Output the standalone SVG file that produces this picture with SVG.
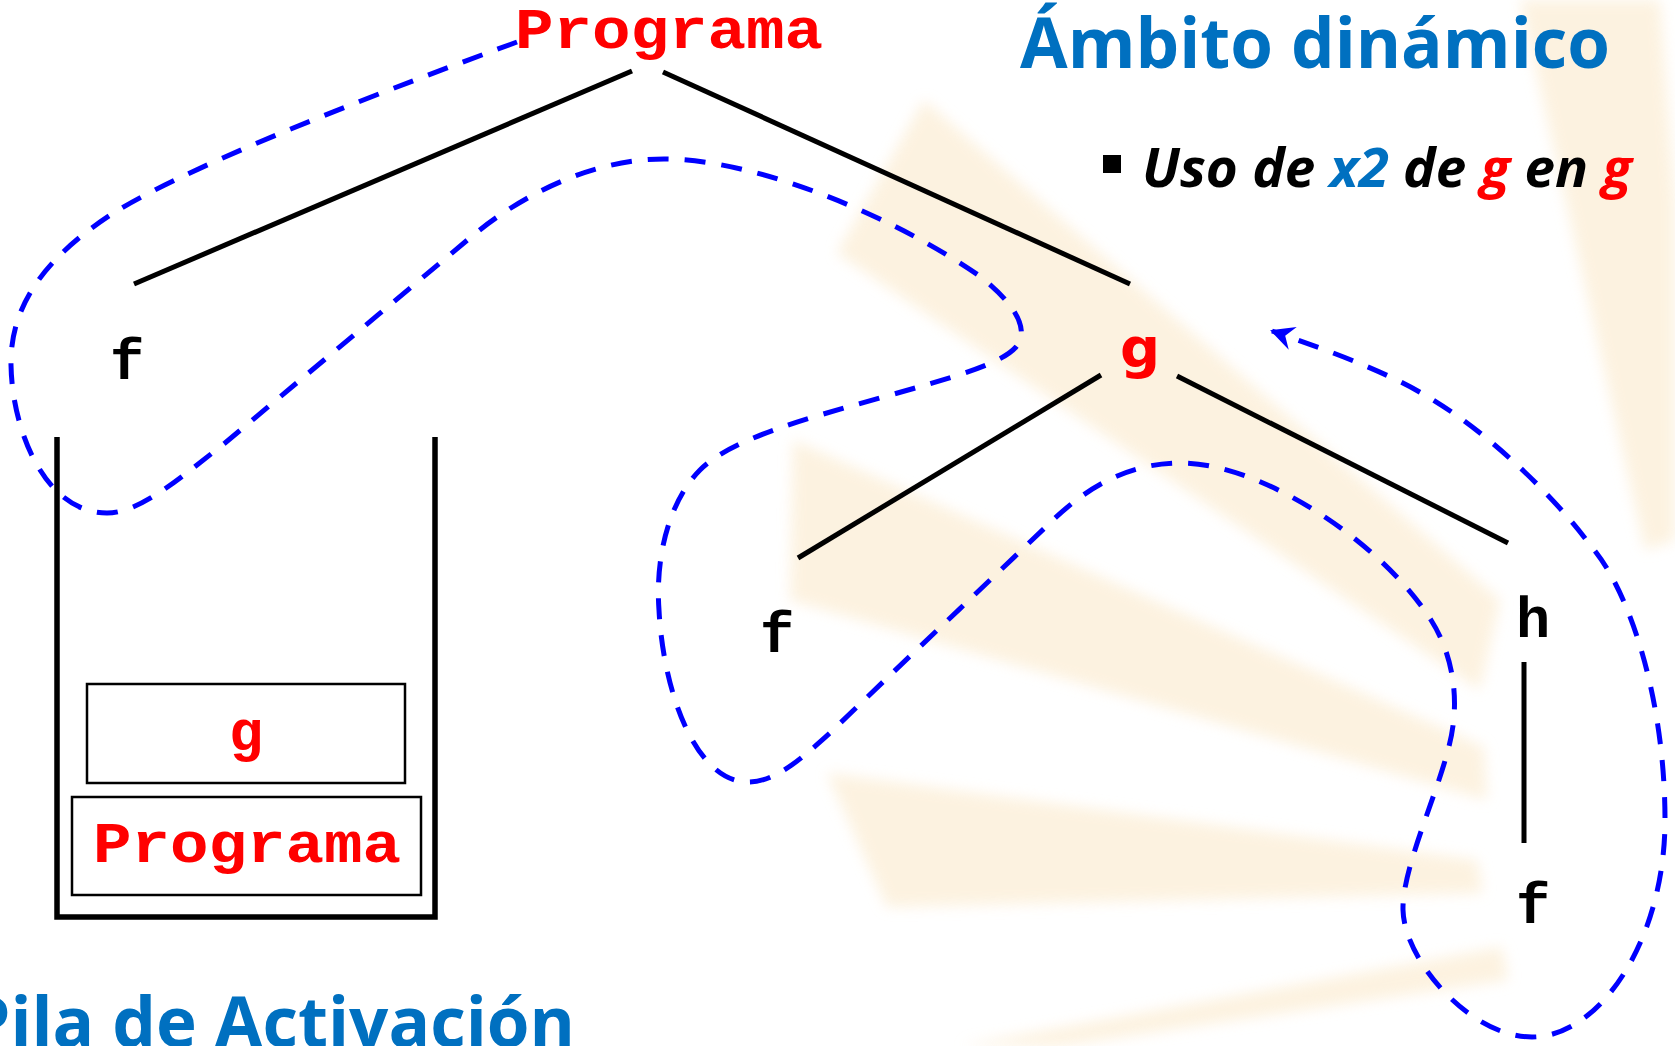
<svg xmlns="http://www.w3.org/2000/svg" width="1675" height="1046" viewBox="0 0 1675 1046">
<style>
.bg{fill:#FCEED6;stroke:none}
.edge{stroke:#000;stroke-width:5;fill:none}
.box{fill:none;stroke:#000;stroke-width:2.5}
.mono{font-family:"Liberation Mono","Courier New",monospace;font-weight:bold;font-size:57px}
.red{fill:#FF0000}
.blk{fill:#000}
.title{font-family:"Open Sans","DejaVu Sans",sans-serif;font-weight:bold;font-size:70px;fill:#0070C0}
.bul{font-family:"Open Sans","DejaVu Sans",sans-serif;font-weight:bold;font-style:italic;font-size:53px;fill:#000}
.dash{fill:none;stroke:#0000FF;stroke-width:5;stroke-dasharray:21 16}
</style>
<defs>
<filter id="soft" x="-10%" y="-10%" width="120%" height="120%">
<feGaussianBlur stdDeviation="7"/>
</filter>
<marker id="arr" markerUnits="userSpaceOnUse" orient="auto" refX="0" refY="0" markerWidth="40" markerHeight="40" overflow="visible">
<path d="M2,0 L-22,-12 L-14,0 L-22,12 Z" fill="#0000FF"/>
</marker>
</defs>
<rect width="1675" height="1046" fill="#FFFFFF"/>
<g id="background" filter="url(#soft)" opacity="0.75">
<polygon class="bg" points="924,100 837,253 1480,690 1500,600"/>
<polygon class="bg" points="793,440 790,600 1487,800 1484,747"/>
<polygon class="bg" points="827,773 887,907 1483,893 1477,860"/>
<polygon class="bg" points="960,1046 1060,1046 1508,980 1502,947"/>
<polygon class="bg" points="1520,0 1660,0 1675,200 1675,540 1645,550"/>
</g>
<g id="connectors">
<line class="edge" x1="632" y1="71" x2="134" y2="284"/>
<line class="edge" x1="663" y1="72" x2="1130" y2="284"/>
<line class="edge" x1="1101" y1="375" x2="798" y2="558"/>
<line class="edge" x1="1177" y1="376" x2="1508" y2="543"/>
<line class="edge" x1="1524" y1="662" x2="1524" y2="843"/>
</g>
<g id="node-programa"><text class="mono red" x="669" y="48" text-anchor="middle" textLength="308" lengthAdjust="spacingAndGlyphs">Programa</text></g>
<g id="node-f1"><text class="mono blk" x="127" y="379" text-anchor="middle">f</text></g>
<g id="node-g"><text x="1140" y="367" text-anchor="middle" style="font-family:'DejaVu Sans',sans-serif;font-weight:bold;font-size:56px" class="red">g</text></g>
<g id="node-f2"><text class="mono blk" x="777" y="652" text-anchor="middle">f</text></g>
<g id="node-h"><text class="mono blk" x="1533" y="637" text-anchor="middle">h</text></g>
<g id="node-f3"><text class="mono blk" x="1533" y="923" text-anchor="middle">f</text></g>
<g id="stack">
<path d="M57,437 V917 H435 V437" fill="none" stroke="#000" stroke-width="5.5"/>
<rect class="box" x="87" y="684" width="318" height="99"/>
<text class="mono red" x="246" y="750" text-anchor="middle">g</text>
<rect class="box" x="72" y="797" width="349" height="98"/>
<text class="mono red" x="247" y="862" text-anchor="middle" textLength="308" lengthAdjust="spacingAndGlyphs">Programa</text>
</g>
<g id="title"><text class="title" x="1020" y="68" textLength="590" lengthAdjust="spacingAndGlyphs">Ámbito dinámico</text></g>
<g id="bullet">
<rect x="1103" y="155" width="18" height="18" fill="#000"/>
<text class="bul" x="1142" y="187" textLength="490" lengthAdjust="spacingAndGlyphs">Uso de <tspan fill="#0070C0">x2</tspan> de <tspan fill="#FF0000">g</tspan> en <tspan fill="#FF0000">g</tspan></text>
</g>
<g id="stack-label"><text class="title" x="-33" y="1047" textLength="608" lengthAdjust="spacingAndGlyphs">Pila de Activación</text></g>
<g id="scope-path">
<path class="dash" marker-end="url(#arr)" d="M517,42 C400,85 200,160 115,212 C40,260 10,310 11,365 C12,430 45,513 107,513 C140,513 180,478 225,443 C300,380 390,305 471,237 C530,188 600,159 664,159 C760,159 900,220 981,277 C1010,300 1032,328 1016,347 C1000,365 950,378 880,398 C800,420 730,440 700,470 C670,500 655,555 659,610 C663,690 695,782 748,782 C775,782 800,760 830,733 C900,665 980,590 1053,520 C1090,485 1130,463 1181,463 C1260,463 1380,540 1431,620 C1452,653 1462,700 1448,750 C1435,800 1402,870 1403,910 C1404,960 1470,1037 1532,1037 C1600,1037 1665,940 1665,820 C1665,700 1630,590 1590,545 C1565,510 1500,440 1430,398 C1380,368 1320,348 1272,331"/>
</g>
</svg>
